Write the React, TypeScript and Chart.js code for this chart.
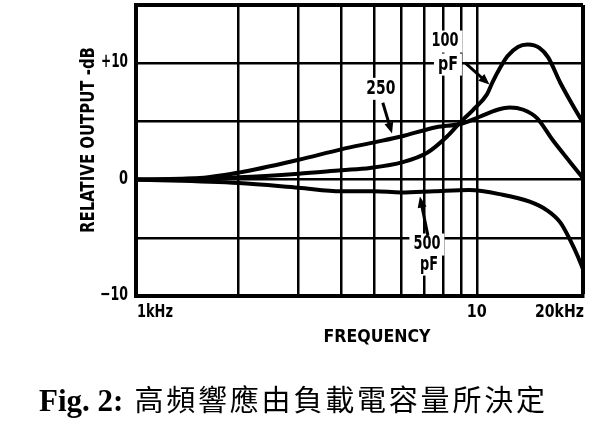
import { useEffect, useRef } from 'react';
import { Chart, registerables } from 'chart.js';
Chart.register(...registerables);

// ---- data (frequency in Hz, relative output in dB) ----
const freq100 = [1000, 2000, 3000, 4000, 4860, 6070, 7150, 8180, 8930, 9760, 10700, 11100, 11500, 12300, 13200, 14100, 15300, 16200, 17600, 19200, 20500];
const db100 = [0, 0.2, 0.5, 0.8, 1.0, 1.5, 2.3, 3.7, 4.9, 6.0, 7.3, 8.3, 9.2, 10.6, 11.4, 11.6, 11.3, 10.5, 8.3, 6.3, 4.9];

const freq250 = [1000, 1500, 2000, 3000, 4000, 5000, 6000, 7600, 9000, 10200, 11500, 12500, 13700, 15000, 16700, 18800, 20400];
const db250 = [0, 0.1, 0.6, 1.7, 2.6, 3.2, 3.7, 4.5, 4.8, 5.4, 6.0, 6.2, 6.0, 5.3, 3.4, 1.5, 0.2];

const freq500 = [1000, 2000, 3000, 4000, 5000, 6000, 7500, 9500, 11900, 14300, 16000, 17600, 18800, 19800, 20500];
const db500 = [0, -0.3, -0.7, -1.0, -1.0, -1.1, -1.0, -0.9, -1.3, -1.9, -2.6, -3.7, -5.2, -6.6, -7.7];

const xGridValues = [1000, 2000, 3000, 4000, 5000, 6000, 7000, 8000, 9000, 10000];
const xMin = 1000;
const xMax = 20500;
const yMin = -10;
const yMax = 15;
const xTickValues = [1000, 10000, 20500];
const xTickLabels = ['1kHz', '10', '20kHz'];
const yTickValues = [10, 0, -10];
const yTickLabels = ['+10', '0', '\u221210'];

const FONT = '"DejaVu Sans", "Liberation Sans", sans-serif';

function fitText(ctx: CanvasRenderingContext2D, text: string, x: number, y: number, w: number, align: CanvasTextAlign, size: number, rotate = 0) {
  ctx.save();
  ctx.font = `bold ${size}px ${FONT}`;
  const m = ctx.measureText(text).width;
  const s = w / m;
  ctx.translate(x, y);
  if (rotate) ctx.rotate(rotate);
  ctx.scale(s, 1);
  ctx.textAlign = align;
  ctx.textBaseline = 'middle';
  ctx.fillStyle = '#000';
  ctx.fillText(text, 0, 0);
  ctx.restore();
}

function arrow(ctx: CanvasRenderingContext2D, x1: number, y1: number, x2: number, y2: number) {
  const a = Math.atan2(y2 - y1, x2 - x1);
  const hl = 11, hw = 4.5;
  ctx.save();
  ctx.strokeStyle = '#000';
  ctx.fillStyle = '#000';
  ctx.lineWidth = 3;
  ctx.beginPath();
  ctx.moveTo(x1, y1);
  ctx.lineTo(x2 - Math.cos(a) * hl * 0.8, y2 - Math.sin(a) * hl * 0.8);
  ctx.stroke();
  ctx.beginPath();
  ctx.moveTo(x2, y2);
  ctx.lineTo(x2 - Math.cos(a) * hl + Math.sin(a) * hw, y2 - Math.sin(a) * hl - Math.cos(a) * hw);
  ctx.lineTo(x2 - Math.cos(a) * hl - Math.sin(a) * hw, y2 - Math.sin(a) * hl + Math.cos(a) * hw);
  ctx.closePath();
  ctx.fill();
  ctx.restore();
}

const annotPlugin = {
  id: 'annot',
  afterDatasetsDraw(chart: any) {
    const ctx: CanvasRenderingContext2D = chart.ctx;
    const xs = chart.scales.x, ys = chart.scales.y;
    const px = (v: number) => xs.getPixelForValue(v);
    const py = (v: number) => ys.getPixelForValue(v);
    const labels = [
      { t: '250', f: 5230, d: 7.8, w: 29 },
      { t: '100', f: 8070, d: 11.86, w: 27 },
      { t: 'pF', f: 8230, d: 9.88, w: 20 },
      { t: '500', f: 7140, d: -5.58, w: 27 },
      { t: 'pF', f: 7240, d: -7.3, w: 18 },
    ];
    ctx.save();
    ctx.fillStyle = '#fff';
    for (const l of labels) {
      const x = px(l.f), y = py(l.d);
      ctx.fillRect(x - l.w / 2 - 4, y - 11, l.w + 8, 22);
    }
    ctx.restore();
    for (const l of labels) fitText(ctx, l.t, px(l.f), py(l.d), l.w, 'center', 19);
    arrow(ctx, px(5300), py(6.6), px(5640), py(3.95));
    arrow(ctx, px(9230), py(10.05), px(10900), py(8.16));
    arrow(ctx, px(7190), py(-4.81), px(6810), py(-1.46));
  },
  afterDraw(chart: any) {
    const ctx: CanvasRenderingContext2D = chart.ctx;
    const xs = chart.scales.x, ys = chart.scales.y;
    const yW = [27, 9, 28];
    yTickValues.forEach((v, i) => fitText(ctx, yTickLabels[i], 128, ys.getPixelForValue(v) - 1, yW[i], 'right', 19));
    const xW = [36, 20, 49];
    const xAlign: CanvasTextAlign[] = ['left', 'center', 'right'];
    xTickValues.forEach((v, i) => {
      let x = xs.getPixelForValue(v);
      if (i === 0) x += 1;
      if (i === 2) x += 1;
      fitText(ctx, xTickLabels[i], x, 312, xW[i], xAlign[i], 18);
    });
    fitText(ctx, 'FREQUENCY', 377, 337, 107, 'center', 18);
    fitText(ctx, 'RELATIVE OUTPUT -dB', 89.5, 140, 186, 'center', 19, -Math.PI / 2);
  },
};

export default function App() {
  const ref = useRef<HTMLCanvasElement | null>(null);
  useEffect(() => {
    document.body.style.margin = '0';
    const mk = (f: number[], d: number[]) => f.map((x, i) => ({ x, y: d[i] }));
    const ds = (label: string, f: number[], d: number[]) => ({
      label,
      data: mk(f, d),
      borderColor: '#000',
      borderWidth: 4,
      pointRadius: 0,
      fill: false,
      cubicInterpolationMode: 'monotone' as const,
    });
    const chart = new Chart(ref.current!, {
      type: 'line',
      data: {
        datasets: [ds('100 pF', freq100, db100), ds('250 pF', freq250, db250), ds('500 pF', freq500, db500)],
      },
      plugins: [annotPlugin],
      options: {
        animation: false,
        responsive: false,
        events: [],
        layout: { padding: { left: 136, right: 17, top: 5, bottom: 127 } },
        plugins: { legend: { display: false }, tooltip: { enabled: false }, title: { display: false } },
        scales: {
          x: {
            type: 'logarithmic',
            min: xMin,
            max: xMax,
            afterBuildTicks: (s: any) => {
              s.ticks = [...xGridValues, xMax].map((v) => ({ value: v }));
            },
            ticks: { display: false },
            grid: {
              color: '#000',
              lineWidth: (c: any) => (c.tick && c.tick.value === xMax ? 4 : 2.5),
              drawTicks: false,
            },
            border: { display: true, color: '#000', width: 4 },
          },
          y: {
            type: 'linear',
            min: yMin,
            max: yMax,
            ticks: { display: false, stepSize: 5 },
            grid: {
              color: '#000',
              lineWidth: (c: any) => (c.tick && c.tick.value === yMax ? 4 : 2.5),
              drawTicks: false,
            },
            border: { display: true, color: '#000', width: 4 },
          },
        },
      },
    });
    return () => chart.destroy();
  }, []);

  return (
    <div style={{ position: 'relative', width: 600, height: 423, background: '#fff', overflow: 'hidden' }}>
      <canvas ref={ref} width={600} height={423} style={{ position: 'absolute', left: 0, top: 0 }} />
      <div
        style={{
          position: 'absolute',
          left: 39,
          top: 381,
          whiteSpace: 'nowrap',
          lineHeight: '34px',
          color: '#000',
        }}
      >
        <span style={{ fontFamily: '"Liberation Serif", "DejaVu Serif", serif', fontWeight: 'bold', fontSize: 31 }}>Fig. 2:</span>
        <span
          style={{
            fontFamily: '"Noto Sans CJK TC", "Noto Sans CJK SC", sans-serif',
            fontWeight: 400,
            fontSize: 29,
            letterSpacing: '2.8px',
            marginLeft: 11,
          }}
        >
          高頻響應由負載電容量所決定
        </span>
      </div>
    </div>
  );
}
